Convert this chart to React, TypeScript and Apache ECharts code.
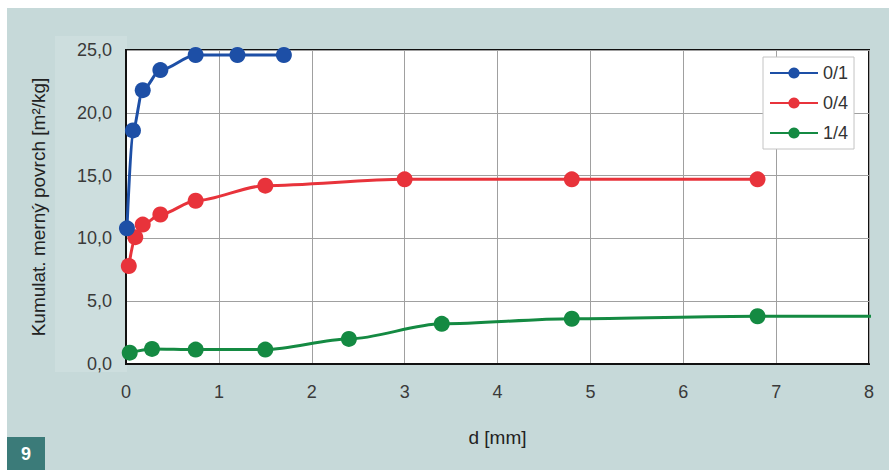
import React, { useEffect, useRef } from "react";
import * as echarts from "echarts";

const seriesNames = ["0/1", "0/4", "1/4"];
const colors = ["#1d4fa6", "#e8333b", "#148a42"];

const d01 = [0.01, 0.075, 0.18, 0.37, 0.75, 1.2, 1.7];
const v01 = [10.8, 18.6, 21.8, 23.4, 24.6, 24.6, 24.6];

const d04 = [0.03, 0.1, 0.18, 0.37, 0.75, 1.5, 3.0, 4.8, 6.8];
const v04 = [7.8, 10.1, 11.1, 11.9, 13.0, 14.2, 14.7, 14.7, 14.7];

const d14 = [0.04, 0.28, 0.75, 1.5, 2.4, 3.4, 4.8, 6.8, 8.1];
const v14 = [0.9, 1.2, 1.15, 1.15, 2.0, 3.2, 3.6, 3.8, 3.8];

const fmt = (v: number) => v.toFixed(1).replace(".", ",");

export default function App() {
  const ref = useRef<HTMLDivElement>(null);
  useEffect(() => {
    document.body.style.margin = "0";
    const chart = echarts.init(ref.current!, null, { renderer: "svg" });
    const mk = (xs: number[], ys: number[], lastNoSymbol = false) =>
      xs.map((x, i) =>
        lastNoSymbol && i === xs.length - 1
          ? { value: [x, ys[i]], symbol: "none" }
          : { value: [x, ys[i]] }
      );
    const datas = [mk(d01, v01), mk(d04, v04), mk(d14, v14, true)];
    chart.setOption({
      animation: false,
      backgroundColor: "#ffffff",
      textStyle: { fontFamily: "Liberation Sans, Arial, sans-serif" },
      graphic: [
        { type: "rect", z: -10, shape: { x: 7, y: 8, width: 882, height: 462 }, style: { fill: "#c6d9d9" } },
        { type: "rect", z: -9, shape: { x: 55, y: 36, width: 72, height: 336 }, style: { fill: "#cddede" } },
        { type: "rect", shape: { x: 7, y: 437, width: 38, height: 33 }, style: { fill: "#3b7b79" } },
        {
          type: "text",
          x: 26,
          y: 454,
          style: {
            text: "9",
            fill: "#ffffff",
            font: "bold 18px Liberation Sans, Arial, sans-serif",
            align: "center",
            verticalAlign: "middle",
          },
        },
      ],
      grid: {
        left: 126,
        top: 50,
        right: 20,
        bottom: 106,
        show: true,
        backgroundColor: "#ffffff",
        borderColor: "#111111",
        borderWidth: 2,
      },
      legend: {
        orient: "vertical",
        left: 763,
        top: 57,
        padding: [7, 6, 7, 6],
        itemGap: 12,
        itemWidth: 48,
        itemHeight: 14,
        backgroundColor: "#ffffff",
        borderColor: "#c4c4c4",
        borderWidth: 1,
        textStyle: { fontSize: 18, color: "#333333" },
        data: seriesNames,
      },
      xAxis: {
        type: "value",
        min: 0,
        max: 8,
        interval: 1,
        name: "d [mm]",
        nameLocation: "middle",
        nameGap: 64,
        nameTextStyle: { fontSize: 19, color: "#222222" },
        axisLine: { show: true, lineStyle: { color: "#111111", width: 2 } },
        axisTick: { show: false },
        axisLabel: { fontSize: 18, color: "#3a3a3a", margin: 19 },
        splitLine: { show: true, lineStyle: { color: "#a0a0a0", width: 1 } },
      },
      yAxis: {
        type: "value",
        min: 0,
        max: 25,
        interval: 5,
        name: "Kumulat. merný povrch [m²/kg]",
        nameLocation: "middle",
        nameGap: 78,
        nameTextStyle: { fontSize: 19, color: "#222222" },
        axisLine: { show: true, lineStyle: { color: "#111111", width: 2 } },
        axisTick: { show: false },
        axisLabel: { fontSize: 18, color: "#3a3a3a", margin: 14, formatter: fmt },
        splitLine: { show: true, lineStyle: { color: "#a0a0a0", width: 1 } },
      },
      series: seriesNames.map((n, i) => ({
        name: n,
        type: "line",
        data: datas[i],
        smooth: 0.3,
        smoothMonotone: "x",
        symbol: "circle",
        symbolSize: 16,
        clip: i !== 2,
        itemStyle: { color: colors[i] },
        lineStyle: { color: colors[i], width: 3 },
        z: 3 - i,
      })),
    });
    return () => chart.dispose();
  }, []);
  return <div ref={ref} style={{ width: 889, height: 470 }} />;
}
